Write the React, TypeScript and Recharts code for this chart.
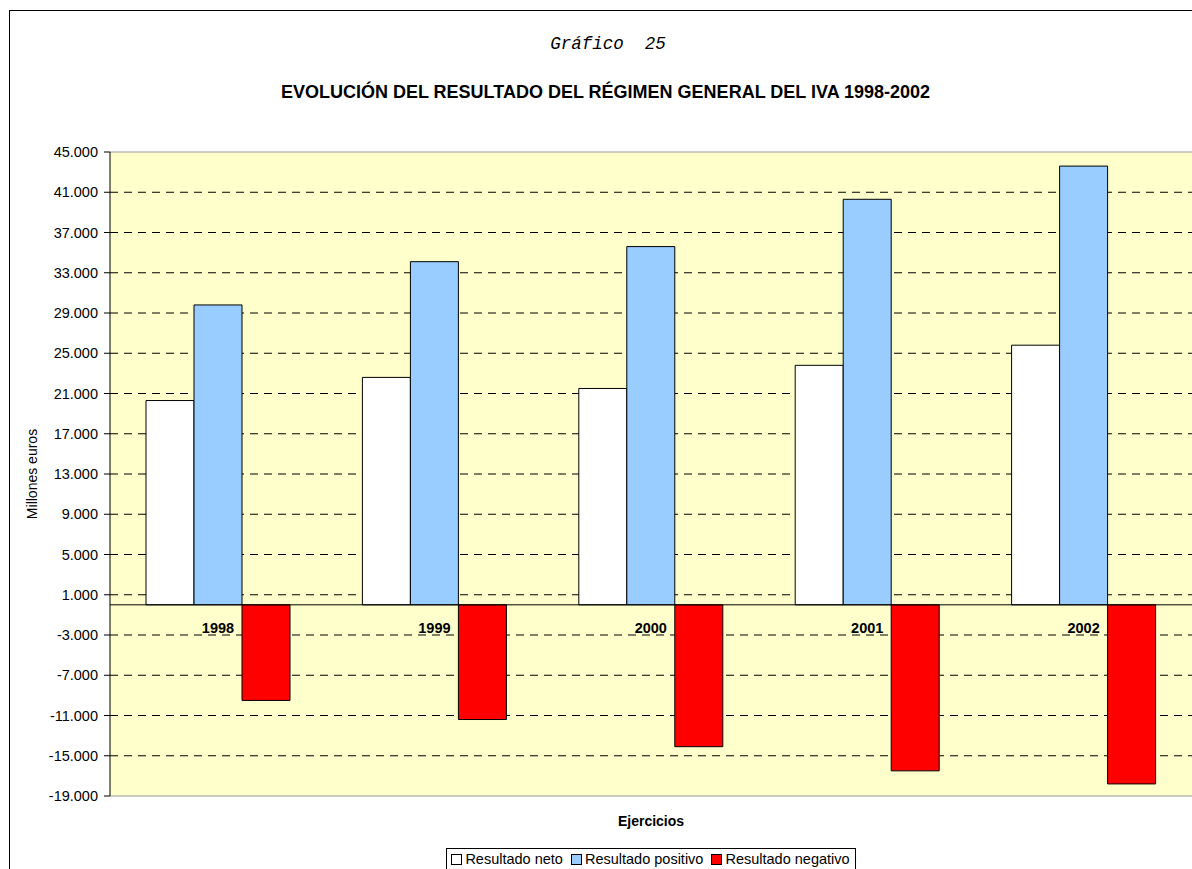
import React from 'react';
import {
  BarChart,
  Bar,
  XAxis,
  YAxis,
  CartesianGrid,
  ReferenceLine,
  Legend,
  LabelList,
} from 'recharts';

const years = ['1998', '1999', '2000', '2001', '2002'];
const resultadoNeto = [20300, 22600, 21500, 23800, 25800];
const resultadoPositivo = [29800, 34100, 35600, 40300, 43600];
const resultadoNegativo = [-9500, -11400, -14100, -16500, -17800];
const yTicks = [
  -19000, -15000, -11000, -7000, -3000, 1000, 5000, 9000, 13000, 17000, 21000,
  25000, 29000, 33000, 37000, 41000, 45000,
];
const gridValues = yTicks.slice(1, -1);
const seriesNames = ['Resultado neto', 'Resultado positivo', 'Resultado negativo'];
const seriesColors = ['#FFFFFF', '#99CCFF', '#FF0000'];

const data = years.map((year, i) => ({
  year,
  neto: resultadoNeto[i],
  positivo: resultadoPositivo[i],
  negativo: resultadoNegativo[i],
}));

const SANS = '"Liberation Sans", Arial, sans-serif';
const MONO = '"Liberation Mono", "Courier New", monospace';

const fmt = (v: number) => {
  const s = String(Math.abs(v)).replace(/\B(?=(\d{3})+(?!\d))/g, '.');
  return v < 0 ? '-' + s : s;
};

const YearLabel = (props: any) => {
  const x = Number(props.x);
  const y = Number(props.y);
  const w = Number(props.width);
  const h = Number(props.height);
  return (
    <text
      x={x + w / 2}
      y={y + h + 28}
      textAnchor="middle"
      fontFamily={SANS}
      fontWeight="bold"
      fontSize={14.5}
      fill="#000"
    >
      {props.value}
    </text>
  );
};

const LegendContent = () => (
  <div style={{ display: 'flex', justifyContent: 'center' }}>
    <div
      style={{
        display: 'inline-flex',
        alignItems: 'center',
        border: '1px solid #000',
        height: 22,
        boxSizing: 'border-box',
        padding: '0 5px 0 4px',
        fontFamily: SANS,
        fontSize: 14.5,
        color: '#000',
        background: '#fff',
      }}
    >
      {seriesNames.map((n, i) => (
        <span key={n} style={{ display: 'inline-flex', alignItems: 'center', marginLeft: i === 0 ? 0 : 8 }}>
          <span
            style={{
              display: 'inline-block',
              width: 9,
              height: 9,
              border: '1px solid #000',
              background: seriesColors[i],
              marginRight: 3,
            }}
          />
          <span>{n}</span>
        </span>
      ))}
    </div>
  </div>
);

const YLabel = (props: any) => {
  const vb = props.viewBox || {};
  const cx = 32;
  const cy = vb.y + vb.height / 2;
  return (
    <text
      x={cx}
      y={cy}
      transform={`rotate(-90 ${cx} ${cy})`}
      textAnchor="middle"
      dominantBaseline="central"
      fontFamily={SANS}
      fontSize={14}
      fill="#000"
    >
      Millones euros
    </text>
  );
};

const XLabel = (props: any) => {
  const vb = props.viewBox || {};
  return (
    <text
      x={vb.x + vb.width / 2}
      y={vb.y + 30}
      textAnchor="middle"
      fontFamily={SANS}
      fontWeight="bold"
      fontSize={14}
      fill="#000"
    >
      Ejercicios
    </text>
  );
};

export default function App() {
  return (
    <div
      style={{
        position: 'absolute',
        left: 0,
        top: 0,
        width: 1192,
        height: 869,
        background: '#fff',
        overflow: 'hidden',
      }}
    >
      <div
        style={{
          position: 'absolute',
          left: 9,
          top: 10,
          width: 1300,
          height: 1000,
          borderLeft: '1px solid #000',
          borderTop: '1px solid #000',
        }}
      />
      <svg
        width={1192}
        height={120}
        style={{ position: 'absolute', left: 0, top: 0 }}
      >
        <text
          x={608}
          y={48.5}
          textAnchor="middle"
          fontFamily={MONO}
          fontStyle="italic"
          fontSize={17.5}
          fill="#000"
          style={{ whiteSpace: 'pre' }}
          xmlSpace="preserve"
        >
          {'Gráfico  25'}
        </text>
        <text
          x={605.5}
          y={98}
          textAnchor="middle"
          fontFamily={SANS}
          fontWeight="bold"
          fontSize={18}
          fill="#000"
        >
          EVOLUCIÓN DEL RESULTADO DEL RÉGIMEN GENERAL DEL IVA 1998-2002
        </text>
      </svg>
      <div style={{ position: 'absolute', left: 0, top: 0 }}>
        <BarChart
          width={1192}
          height={869}
          data={data}
          margin={{ top: 152, right: 0, bottom: 0, left: 10 }}
          barCategoryGap={36}
          barGap={0}
        >
          <CartesianGrid
            vertical={false}
            stroke="#000"
            strokeDasharray="8 6"
            fill="#FFFFCC"
            horizontalValues={gridValues}
          />
          <XAxis
            dataKey="year"
            height={73}
            tick={false}
            tickLine={false}
            axisLine={false}
            label={<XLabel />}
          />
          <YAxis
            width={100}
            domain={[-19000, 45000]}
            ticks={yTicks}
            interval={0}
            tickFormatter={fmt}
            tickSize={6}
            tickMargin={6}
            axisLine={{ stroke: '#000' }}
            tickLine={{ stroke: '#000' }}
            tick={{ fill: '#000', fontSize: 14.5, fontFamily: SANS }}
            label={<YLabel />}
            allowDataOverflow
          />
          <ReferenceLine y={45000} stroke="#999" strokeWidth={1} />
          <ReferenceLine y={-19000} stroke="#999" strokeWidth={1} />
          <Bar dataKey="neto" name={seriesNames[0]} fill={seriesColors[0]} stroke="#000" strokeWidth={1} isAnimationActive={false} />
          <Bar dataKey="positivo" name={seriesNames[1]} fill={seriesColors[1]} stroke="#000" strokeWidth={1} isAnimationActive={false}>
            <LabelList dataKey="year" content={<YearLabel />} />
          </Bar>
          <Bar dataKey="negativo" name={seriesNames[2]} fill={seriesColors[2]} stroke="#000" strokeWidth={1} isAnimationActive={false} />
          <ReferenceLine y={0} stroke="#000" strokeWidth={1} />
          <Legend
            layout="horizontal"
            verticalAlign="middle"
            align="center"
            content={<LegendContent />}
            wrapperStyle={{ top: 848, left: 110, width: 1082, bottom: 'auto', right: 'auto' }}
          />
        </BarChart>
      </div>
    </div>
  );
}
